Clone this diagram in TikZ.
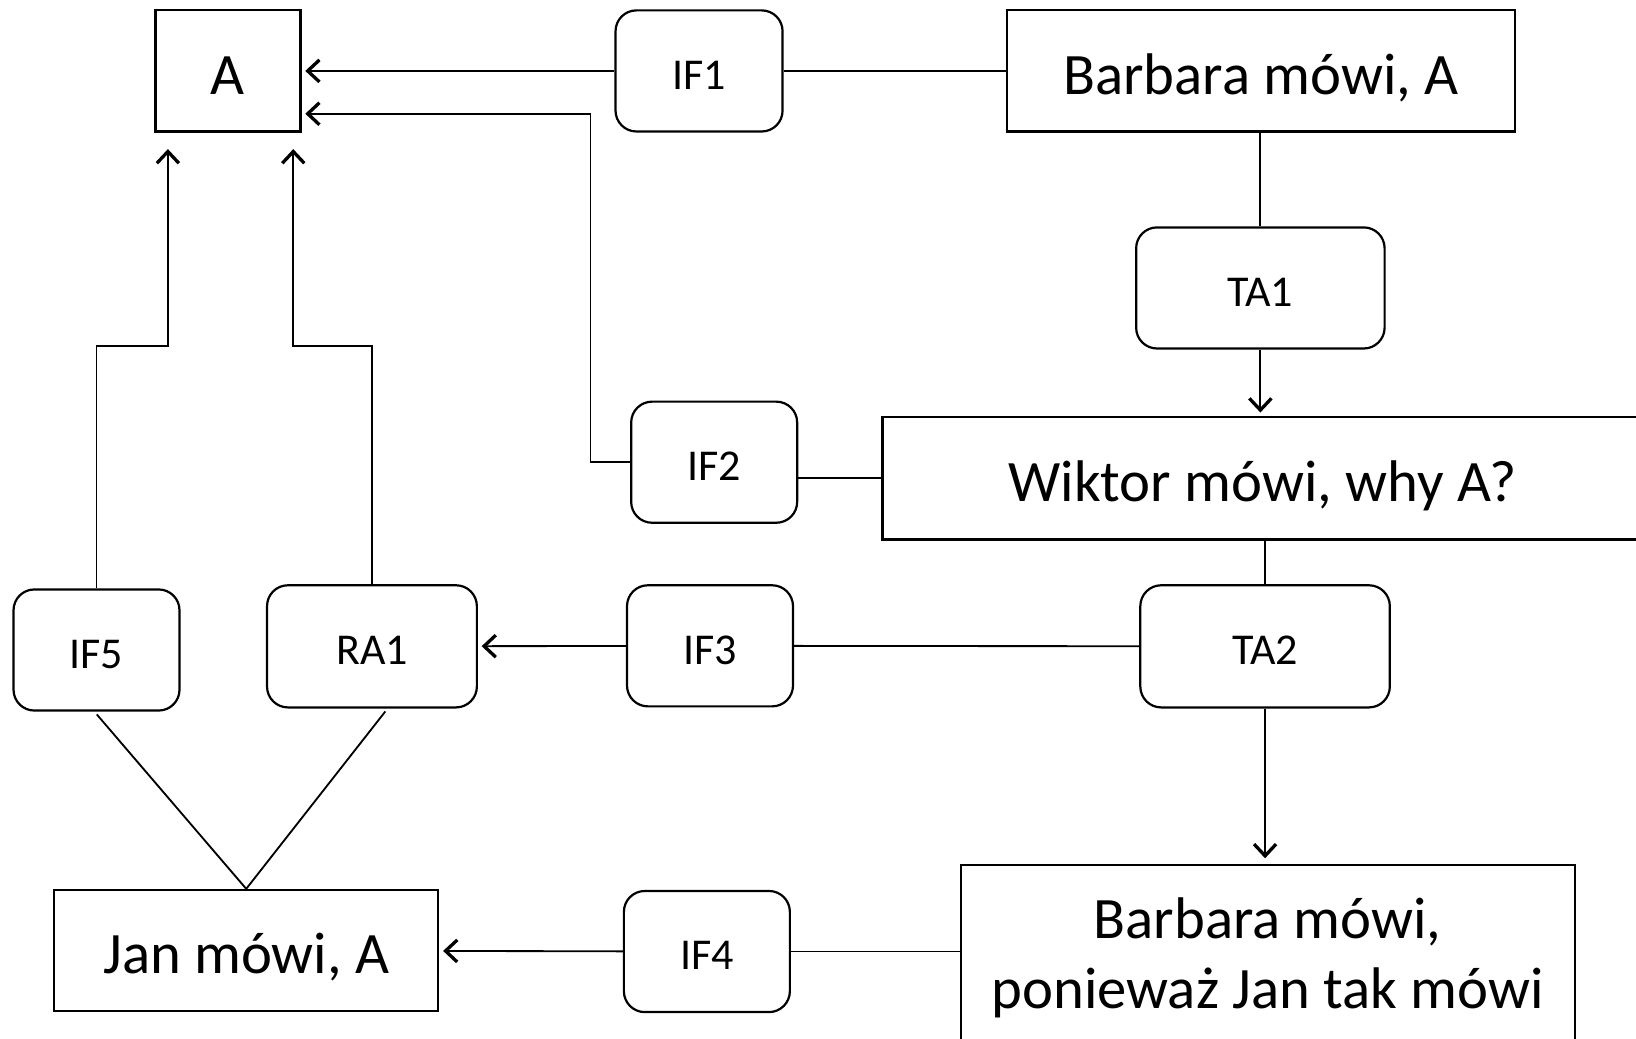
\documentclass[tikz,border=0pt]{standalone}
\usepackage{fontspec}
\setmainfont{Carlito}
\usetikzlibrary{arrows.meta,positioning,calc}
\tikzset{
	claim/.style={rectangle,draw,line width=0.6pt,font=\fontsize{16}{19}\selectfont,align=center,inner sep=0},
	oneline/.style={text height=12.6pt,text depth=0pt},
	inf/.style={rectangle,rounded corners=0.2cm,draw,line width=0.6pt,font=\fontsize{12}{14}\selectfont,inner sep=0,text height=10pt,text depth=0pt},
	edge/.style={color=black, line width=0.5pt},
	diredge/.style={->,>={Straight Barb[width=6pt,length=3.2pt,line width=0.9pt]},color=black, line width=0.5pt}
}
\begin{document}
\begin{tikzpicture}[x=0.01cm,y=-0.01cm]
	\useasboundingbox (0,0) rectangle (1568,995);
	
	%%claims
	\node[claim,oneline,minimum width=1.39cm,minimum height=1.16cm] (a) at (218.5,68) {A};
	\node[claim,oneline,minimum width=4.87cm,minimum height=1.16cm] (bar1) at (1208.5,68) {Barbara mówi, A};
	\node[claim,oneline,minimum width=7.28cm,minimum height=1.17cm] (wik) at (1210,458.5) {Wiktor mówi, why A?};
	\node[claim,oneline,minimum width=3.68cm,minimum height=1.16cm] (jan) at (236,911) {Jan mówi, A};
	\node[claim,minimum width=5.88cm,minimum height=1.78cm] (bar2) at (1215,918) {Barbara mówi,\\ponieważ Jan tak mówi};
	
	%%inference / transition nodes
	\node[inf,minimum width=1.6cm,minimum height=1.16cm] (if1) at (670,68) {IF1};
	\node[inf,minimum width=2.38cm,minimum height=1.16cm] (ta1) at (1208,276) {TA1};
	\node[inf,minimum width=1.59cm,minimum height=1.16cm] (if2) at (684.5,443) {IF2};
	\node[inf,minimum width=1.59cm,minimum height=1.16cm] (if5) at (92.5,623) {IF5};
	\node[inf,minimum width=2.01cm,minimum height=1.17cm] (ra1) at (356.5,619.5) {RA1};
	\node[inf,minimum width=1.59cm,minimum height=1.16cm] (if3) at (680.5,619) {IF3};
	\node[inf,minimum width=2.39cm,minimum height=1.17cm] (ta2) at (1212.5,619.5) {TA2};
	\node[inf,minimum width=1.59cm,minimum height=1.16cm] (if4) at (677.5,912) {IF4};
	
	%%% top row
	\draw[edge] (bar1) -- (if1);
	\draw[diredge,shorten >=1pt] (if1) -- (a);
	\draw[edge] (bar1.south -| ta1.north) -- (ta1.north);
	\draw[diredge,shorten >=1pt] (ta1.south) -- (ta1.south |- wik.north);
	
	%%% Wiktor
	\draw[edge] (wik.west) -- (wik.west -| if2.east);
	\draw[diredge,shorten >=1pt] (if2.west) -- ++(-38,0) |- ([yshift=-0.41cm]a.east);
	\draw[edge] (ta2.north |- wik.south) -- (ta2.north);
	
	%%% TA2 row
	\draw[edge] (ta2) -- (if3);
	\draw[diredge,shorten >=1pt] (if3) -- (ra1);
	\draw[diredge,shorten >=1.5pt] (ta2.south) -- (ta2.south |- bar2.north);
	
	%%% bottom row
	\draw[edge] (bar2.west |- if4.east) -- (if4.east);
	\draw[diredge,shorten >=1pt] (if4) -- (jan);
	
	%%% up to A
	\draw[diredge,shorten >=4.5pt] (if5.north) -- ++(0,-232) -| ([xshift=0.13cm]a.south west);
	\draw[diredge,shorten >=4.5pt] (ra1.north) -- ++(0,-228) -| ([xshift=-0.08cm]a.south east);
	
	%%% Jan to IF5, RA1
	\draw[edge,shorten >=1pt] (jan.north) -- ([xshift=-0.02cm]if5.south);
	\draw[edge,shorten >=1pt] (jan.north) -- ([xshift=0.15cm]ra1.south);
	
\end{tikzpicture}
\end{document}
